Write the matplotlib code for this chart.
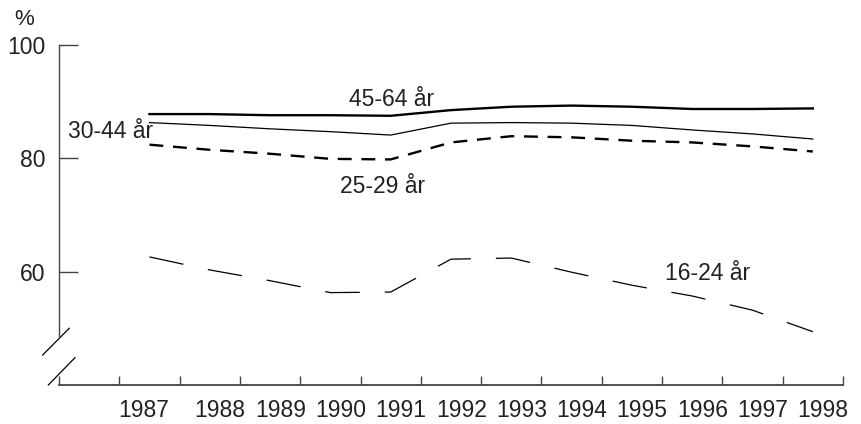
import matplotlib
matplotlib.use('Agg')
import matplotlib.pyplot as plt

plt.rcParams['font.family'] = ['Liberation Sans', 'DejaVu Sans']
plt.rcParams['lines.scale_dashes'] = False

years = [1987, 1988, 1989, 1990, 1991, 1992, 1993, 1994, 1995, 1996, 1997, 1998]
age_45_64 = [87.8, 87.8, 87.6, 87.6, 87.5, 88.5, 89.1, 89.3, 89.1, 88.7, 88.7, 88.8]
age_30_44 = [86.3, 85.8, 85.2, 84.7, 84.1, 86.2, 86.3, 86.2, 85.8, 85.0, 84.3, 83.4]
age_25_29 = [82.4, 81.5, 80.8, 79.9, 79.8, 82.8, 83.9, 83.7, 83.1, 82.8, 82.1, 81.2]
age_16_24 = [62.6, 60.3, 58.4, 56.3, 56.4, 62.2, 62.4, 59.9, 57.6, 55.7, 53.2, 49.4]
year_labels = ['1987', '1988', '1989', '1990', '1991', '1992',
               '1993', '1994', '1995', '1996', '1997', '1998']
yticks = [60, 80, 100]

txt = '#222222'
axc = '#444444'

fig = plt.figure(figsize=(8.61, 4.24), dpi=100)
ax = fig.add_axes([0.0685, 0.092, 0.9106, 0.802])

ax.plot(years, age_45_64, color='black', lw=1.7)
ax.plot(years, age_30_44, color='black', lw=0.9)
ax.plot(years, age_25_29, color='black', lw=1.7, dashes=(10, 7))
ax.plot(years, age_16_24, color='black', lw=0.9, dashes=(25, 18))

ax.set_xlim(years[0] - 1.5, years[-1] + 0.5)
ax.set_ylim(40, 100)

# x axis: ticks between years, labels placed a bit off-centre as in the original
ax.set_xticks([years[0] - 1.5] + [y - 0.5 for y in years] + [years[-1] + 0.5])
ax.set_xticklabels([])
label_x = [y + 0.17 for y in years]
label_x[0] = years[0] - 0.1
ax.set_xticks(label_x, minor=True)
ax.set_xticklabels(year_labels, minor=True)
ax.tick_params(axis='x', which='major', direction='in', length=6.2, width=1, color=axc)
ax.tick_params(axis='x', which='minor', length=0, pad=10, labelsize=16.5, labelcolor=txt)

ax.set_yticks(yticks)
ax.set_yticklabels([str(v) for v in yticks])
ax.tick_params(axis='y', direction='in', length=13.7, width=1, color=axc,
               pad=10, labelsize=16.5, labelcolor=txt)

for s in ['top', 'right']:
    ax.spines[s].set_visible(False)
ax.spines['left'].set_bounds(48.5, 100)
ax.spines['left'].set_color(axc)
ax.spines['bottom'].set_color(axc)
ax.spines['left'].set_linewidth(1)
ax.spines['bottom'].set_linewidth(1.3)

# axis break marks
ax.plot([-0.0208, 0.0131], [0.0882, 0.1668], transform=ax.transAxes,
        color='black', lw=0.9, clip_on=False)
ax.plot([-0.0136, 0.0204], [0.0, 0.0803], transform=ax.transAxes,
        color='black', lw=0.9, clip_on=False)

# series labels
ax.text(1991.02, 89.24, '45-64 år', ha='center', va='baseline', fontsize=16.5, color=txt)
ax.text(1986.36, 83.54, '30-44 år', ha='center', va='baseline', fontsize=16.5, color=txt)
ax.text(1990.87, 73.83, '25-29 år', ha='center', va='baseline', fontsize=16.5, color=txt)
ax.text(1996.26, 58.54, '16-24 år', ha='center', va='baseline', fontsize=16.5, color=txt)
ax.text(-0.0446, 1.076, '%', transform=ax.transAxes, ha='center', va='center',
        fontsize=16, color=txt)

fig.savefig('out.png', dpi=100)
